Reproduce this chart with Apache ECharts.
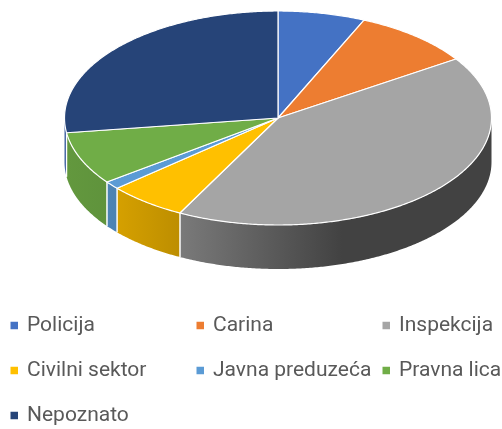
<!DOCTYPE html>
<html>
<head>
<meta charset="utf-8">
<style>html,body{margin:0;padding:0;background:#fff}#c{width:502px;height:429px}</style>
<script src="https://cdn.jsdelivr.net/npm/echarts@6/dist/echarts.min.js"></script>
</head>
<body>
<div id="c"></div>
<script>
const categories = ['Policija','Carina','Inspekcija','Civilni sektor','Javna preduzeća','Pravna lica','Nepoznato'];
const values = [6.6, 9.1, 41.9, 6.0, 1.2, 8.0, 27.2];
const colors = ['#4472C4','#ED7D31','#A5A5A5','#FFC000','#5B9BD5','#70AD47','#264478'];
const sideColors = ['#4472C4','#ED7D31','#A5A5A5','#FFC000','#5B9BD5','#70AD47','#4A70B8'];

const cx = 278, cy = 118, rx = 213.5, ry = 107, depth = 44;
const total = values.reduce((a, b) => a + b, 0);
const pt = (deg, dy) => {
  const t = deg * Math.PI / 180;
  return [cx + rx * Math.sin(t), cy - ry * Math.cos(t) + (dy || 0)];
};
const arc = (a, b, dy) => {
  const out = [], n = Math.max(2, Math.ceil(Math.abs(b - a) * 2));
  for (let i = 0; i <= n; i++) out.push(pt(a + (b - a) * i / n, dy));
  return out;
};

function renderSlice(params, api) {
  const idx = params.seriesIndex;
  let before = 0;
  for (let i = 0; i < idx; i++) before += values[i];
  const start = before / total * 360;
  const end = (before + api.value(0)) / total * 360;
  const color = api.visual('color');
  const side = sideColors[idx];
  const children = [];
  const a = Math.max(start, 90), b = Math.min(end, 270);
  if (b > a) {
    const front = arc(a, b, 0), back = arc(b, a, depth);
    const c = echarts.color;
    children.push({
      type: 'polygon',
      shape: { points: front.concat(back) },
      style: {
        fill: new echarts.graphic.LinearGradient(cx - rx, 0, cx + rx, 0, [
          { offset: 0, color: c.lerp(0.88, ['#000', side]) },
          { offset: 0.1, color: c.lerp(0.85, ['#000', side]) },
          { offset: 0.27, color: c.lerp(0.74, ['#000', side]) },
          { offset: 0.65, color: c.lerp(0.40, ['#000', side]) },
          { offset: 1, color: c.lerp(0.40, ['#000', side]) }
        ], true),
        stroke: null
      }
    });
    [start, end].forEach(function (ang) {
      if (ang >= 90 && ang <= 270) {
        const p = pt(ang, 0);
        children.push({ type: 'line', shape: { x1: p[0], y1: p[1], x2: p[0], y2: p[1] + depth },
          style: { stroke: '#fff', lineWidth: 1.2 } });
      }
    });
  }
  children.push({
    type: 'polygon',
    z2: 5,
    shape: { points: [[cx, cy]].concat(arc(start, end, 0)) },
    style: { fill: color, stroke: '#fff', lineWidth: 1.2, lineJoin: 'round' }
  });
  return { type: 'group', children };
}

const colX = [10.5, 196.5, 382.5], rowY = [315, 360, 405];
const chart = echarts.init(document.getElementById('c'), null, { renderer: 'canvas' });
chart.setOption({
  animation: false,
  backgroundColor: '#fff',
  legend: categories.map((name, i) => ({
    data: [name],
    left: colX[i % 3],
    top: rowY[Math.floor(i / 3)],
    icon: 'rect',
    itemWidth: 7.5,
    itemHeight: 7.5,
    itemGap: 10,
    padding: 0,
    selectedMode: false,
    textStyle: { fontFamily: 'Roboto', fontSize: 21, color: '#595959', padding: [0, 0, 0, 4] }
  })),
  series: categories.map((name, i) => ({
    type: 'custom',
    name,
    coordinateSystem: 'none',
    silent: true,
    itemStyle: { color: colors[i] },
    data: [[values[i]]],
    renderItem: renderSlice
  }))
});
</script>
</body>
</html>
